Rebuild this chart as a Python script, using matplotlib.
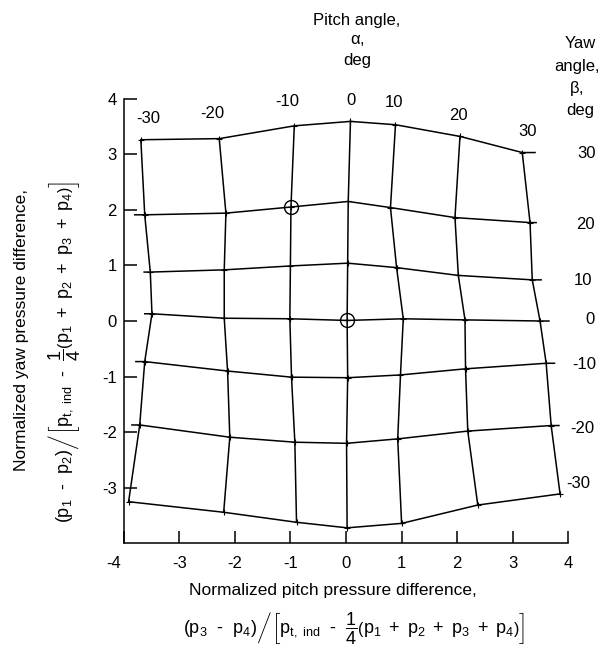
import matplotlib
matplotlib.use('Agg')
import matplotlib.pyplot as plt
import matplotlib.transforms as mtransforms
import numpy as np

# Datos: angulos de calibracion
pitch_angles = [-30, -20, -10, 0, 10, 20, 30]
yaw_angles = [30, 20, 10, 0, -10, -20, -30]

# x (pitch) de cada nodo, una fila por angulo de guinada
grid_x = [
    [-3.69, -2.28, -0.93, 0.08, 0.89, 2.05, 3.17],
    [-3.62, -2.16, -0.99, 0.04, 0.80, 1.96, 3.31],
    [-3.52, -2.19, -1.00, 0.03, 0.91, 2.02, 3.35],
    [-3.49, -2.19, -1.01, 0.02, 1.03, 2.14, 3.49],
    [-3.62, -2.13, -0.98, 0.03, 0.98, 2.15, 3.60],
    [-3.71, -2.09, -0.92, 0.01, 0.93, 2.19, 3.69],
    [-3.91, -2.20, -0.89, 0.02, 1.00, 2.37, 3.85],
]
# y (yaw) de cada nodo
grid_y = [
    [3.26, 3.28, 3.51, 3.59, 3.53, 3.32, 3.03],
    [1.91, 1.94, 2.05, 2.15, 2.04, 1.86, 1.77],
    [0.88, 0.92, 0.99, 1.04, 0.96, 0.82, 0.74],
    [0.13, 0.05, 0.04, 0.01, 0.04, 0.02, 0.00],
    [-0.73, -0.90, -1.01, -1.02, -0.97, -0.86, -0.76],
    [-1.87, -2.09, -2.18, -2.20, -2.12, -1.98, -1.88],
    [-3.25, -3.44, -3.62, -3.72, -3.64, -3.31, -3.11],
]
# extremos de las lineas de guinada
row_left_x = [-3.69, -3.80, -3.63, -3.62, -3.78, -3.85, -3.91]
row_right_x = [3.40, 3.42, 3.51, 3.65, 3.75, 3.83, 3.85]

# puntos marcados con circulo (yaw, pitch)
circled = [(20, -10), (0, 0)]

xticks = [-4, -3, -2, -1, 0, 1, 2, 3, 4]
yticks = [-3, -2, -1, 0, 1, 2, 3, 4]

gx = np.array(grid_x)
gy = np.array(grid_y)

plt.rcParams['font.family'] = ['Liberation Sans', 'DejaVu Sans']
plt.rcParams['mathtext.fontset'] = 'custom'
plt.rcParams['mathtext.rm'] = 'Liberation Sans'
plt.rcParams['mathtext.it'] = 'Liberation Sans'
plt.rcParams['mathtext.bf'] = 'Liberation Sans'

W, H = 603, 653
fig = plt.figure(figsize=(W / 100, H / 100), dpi=100)
ax = fig.add_axes([123.6 / W, 1 - 543.4 / H, 444.8 / W, 444.8 / H])

lw = 1.1
fs = 12

# lineas de guinada constante
for j in range(len(yaw_angles)):
    xs = [row_left_x[j]] + list(gx[j]) + [row_right_x[j]]
    ys = [gy[j][0]] + list(gy[j]) + [gy[j][-1]]
    ax.plot(xs, ys, color='black', lw=lw, clip_on=False)

# lineas de pitch constante
for i in range(len(pitch_angles)):
    ax.plot(gx[:, i], gy[:, i], color='black', lw=lw, clip_on=False)

ax.plot(gx.ravel(), gy.ravel(), '+', color='black', ms=5, mew=0.8, clip_on=False)

for yaw, pitch in circled:
    j = yaw_angles.index(yaw)
    i = pitch_angles.index(pitch)
    ax.plot(gx[j][i], gy[j][i], 'o', mfc='none', mec='black', ms=10, mew=1.0)

# etiquetas de pitch arriba
pitch_lab_x = [-3.55, -2.4, -1.06, 0.09, 0.87, 2.03, 3.26]
pitch_lab_y = [3.64, 3.73, 3.95, 3.97, 3.93, 3.70, 3.41]
for a, x, y in zip(pitch_angles, pitch_lab_x, pitch_lab_y):
    ax.text(x, y, str(a), ha='center', va='center', fontsize=fs)

# etiquetas de guinada a la derecha
yaw_lab_x = [4.33, 4.30, 4.27, 4.39, 4.28, 4.25, 4.17]
yaw_lab_y = [3.02, 1.74, 0.72, 0.03, -0.78, -1.93, -2.93]
for b, x, y in zip(yaw_angles, yaw_lab_x, yaw_lab_y):
    ax.text(x, y, str(b), ha='center', va='center', fontsize=fs)

ax.set_xlim(-4, 4)
ax.set_ylim(-4, 4)
ax.spines['top'].set_visible(False)
ax.spines['right'].set_visible(False)
for s in ['left', 'bottom']:
    ax.spines[s].set_linewidth(1.1)
ax.set_xticks(xticks)
ax.set_yticks(yticks)
ax.set_xticklabels([str(t) for t in xticks], fontsize=fs)
ax.set_yticklabels([str(t) for t in yticks], fontsize=fs)
ax.tick_params(axis='x', direction='in', length=9, width=1.1, pad=9)
ax.tick_params(axis='y', direction='in', length=9, width=1.1, pad=5)
lab = ax.get_xticklabels()[0]
lab.set_transform(lab.get_transform() + mtransforms.ScaledTranslation(-0.1, 0, fig.dpi_scale_trans))


def fpos(px, py):
    return px / W, 1 - py / H


# titulos de los ejes
fig.text(*fpos(357, 20), 'Pitch angle,', ha='center', va='center', fontsize=fs)
fig.text(*fpos(357, 40), r'$\alpha$,', ha='center', va='center', fontsize=fs)
fig.text(*fpos(357, 60), 'deg', ha='center', va='center', fontsize=fs)

fig.text(*fpos(580, 43), 'Yaw', ha='center', va='center', fontsize=fs)
fig.text(*fpos(577, 67), 'angle,', ha='center', va='center', fontsize=fs)
fig.text(*fpos(576, 89), r'$\beta$,', ha='center', va='center', fontsize=fs)
fig.text(*fpos(580, 110), 'deg', ha='center', va='center', fontsize=fs)

formula_x = (r'$(\mathrm{p}_3\ \ \text{-}\ \ \mathrm{p}_4)\left/\left[\mathrm{p}_{\mathrm{t,\ ind}}\ \ \text{-}\ \ '
             r'\dfrac{1}{4}\left(\mathrm{p}_1\ +\ \mathrm{p}_2\ +\ \mathrm{p}_3\ +\ \mathrm{p}_4\right)\right]\right.$')
formula_y = (r'$(\mathrm{p}_1\ \ \text{-}\ \ \mathrm{p}_2)\left/\left[\mathrm{p}_{\mathrm{t,\ ind}}\ \ \text{-}\ \ '
             r'\dfrac{1}{4}\left(\mathrm{p}_1\ +\ \mathrm{p}_2\ +\ \mathrm{p}_3\ +\ \mathrm{p}_4\right)\right]\right.$')

fig.text(*fpos(333, 590), 'Normalized pitch pressure difference,', ha='center', va='center', fontsize=12.5)
fig.text(*fpos(354, 628), formula_x, ha='center', va='center', fontsize=13)

fig.text(*fpos(22, 330), 'Normalized yaw pressure difference,', ha='center', va='center',
         rotation=90, fontsize=12.5)
fig.text(*fpos(64, 352), formula_y, ha='center', va='center', rotation=90, fontsize=13)

fig.savefig('out.png', dpi=100)
